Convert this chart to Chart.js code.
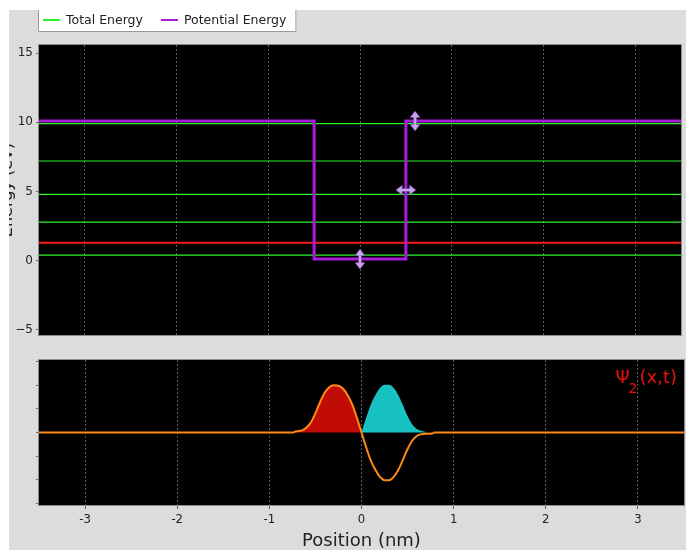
<!DOCTYPE html>
<html><head><meta charset="utf-8">
<script src="https://cdn.jsdelivr.net/npm/chart.js@4.4.1/dist/chart.umd.min.js"></script>
<style>
html,body{margin:0;padding:0;background:#fff;width:686px;height:550px;overflow:hidden;}
#panel{position:absolute;left:9px;top:10px;width:677px;height:540px;background:#dcdcdc;overflow:hidden;}
#top{position:absolute;left:0;top:0;}
#bot{position:absolute;left:0;top:330px;}
</style></head><body>
<div id="panel"><canvas id="top" width="677" height="330"></canvas><canvas id="bot" width="677" height="210"></canvas></div>
<script>
// ---------- data ----------
const xTicks = [-3, -2, -1, 0, 1, 2, 3];
const energyTicks = [-5, 0, 5, 10, 15];
const psiTicks = [-3, -2, -1, 0, 1, 2, 3];
const boundEnergies = [0.39, 1.28, 2.77, 4.78, 7.20, 9.90];
const selectedEnergy = 1.28;
const wellX = [-3.5, -0.5, -0.5, 0.5, 0.5, 3.5];
const wellV = [10.1, 10.1, 0.1, 0.1, 10.1, 10.1];
const arrowX = [0, 0.5, 0.6];
const arrowY = [0.1, 5.1, 10.1];
const arrowDir = ['v', 'h', 'v'];
const psiX  = [-3.5, -0.74, -0.72, -0.68, -0.64, -0.60, -0.55, -0.50, -0.45, -0.40, -0.35, -0.30, -0.25, -0.20, -0.15, -0.10, -0.05, 0.00, 0.05, 0.10, 0.15, 0.20, 0.25, 0.30, 0.35, 0.40, 0.45, 0.50, 0.55, 0.60, 0.64, 0.70, 0.77, 0.79, 3.5];
const psiRe = [0, 0, 0.04, 0.06, 0.10, 0.20, 0.42, 0.82, 1.28, 1.68, 1.92, 2.00, 1.98, 1.85, 1.58, 1.18, 0.62, 0, -0.62, -1.18, -1.58, -1.88, -2.02, -2.02, -1.88, -1.58, -1.15, -0.70, -0.35, -0.15, -0.08, -0.05, -0.04, 0, 0];
const redX  = [-0.74, -0.72, -0.68, -0.64, -0.60, -0.55, -0.50, -0.45, -0.40, -0.35, -0.30, -0.25, -0.20, -0.15, -0.10, -0.05, 0.00];
const redY  = [0, 0.04, 0.06, 0.10, 0.20, 0.42, 0.82, 1.28, 1.68, 1.92, 2.00, 1.98, 1.85, 1.58, 1.18, 0.62, 0];
const cyanX = [0.00, 0.05, 0.10, 0.15, 0.20, 0.25, 0.30, 0.35, 0.40, 0.45, 0.50, 0.55, 0.60, 0.66, 0.72];
const cyanY = [0, 0.62, 1.18, 1.58, 1.88, 2.02, 2.02, 1.88, 1.58, 1.15, 0.70, 0.35, 0.15, 0.06, 0];

const totalLabel = 'Total Energy';
const potentialLabel = 'Potential Energy';
const yTitle = 'Energy (eV)';
const xTitle = 'Position (nm)';

// ---------- styles ----------
const GREEN = '#2cf22c', PURPLE = '#a81ed8', SELRED = '#ff1414', ORANGE = '#ff8a12', FILLRED = '#c00c04', CYAN = '#19c2c2', ARROW = '#c9a2f2';
const FONT = "'DejaVu Sans', sans-serif";
Chart.defaults.font.family = FONT;

function makeArrow(dir) {
  const c = document.createElement('canvas'); c.width = 24; c.height = 24;
  const g = c.getContext('2d');
  g.translate(12, 12); if (dir === 'h') g.rotate(Math.PI / 2);
  g.beginPath();
  g.moveTo(0, -10); g.lineTo(5, -3.5); g.lineTo(1.5, -3.5); g.lineTo(1.5, 3.5); g.lineTo(5, 3.5);
  g.lineTo(0, 10); g.lineTo(-5, 3.5); g.lineTo(-1.5, 3.5); g.lineTo(-1.5, -3.5); g.lineTo(-5, -3.5); g.closePath();
  g.fillStyle = ARROW; g.fill();
  g.strokeStyle = 'rgba(110,60,160,0.7)'; g.lineWidth = 0.7; g.stroke();
  return c;
}
const arrowImg = { v: makeArrow('v'), h: makeArrow('h') };

const framePlugin = {
  id: 'frame',
  beforeDraw(c) { const a = c.chartArea, g = c.ctx; g.save(); g.fillStyle = '#000'; g.fillRect(a.left, a.top, a.right - a.left, a.bottom - a.top); g.restore(); },
  afterDraw(c) { const a = c.chartArea, g = c.ctx; g.save(); g.strokeStyle = '#8c8c8c'; g.lineWidth = 1; g.strokeRect(a.left - 0.5, a.top - 0.5, a.right - a.left + 1, a.bottom - a.top + 1); g.restore(); }
};

const legendPlugin = {
  id: 'boxLegend',
  afterDraw(c) {
    const g = c.ctx; g.save();
    const items = c.data.datasets.filter(d => d.inLegend).sort((p, q) => p.legendOrder - q.legendOrder);
    g.font = '12.5px ' + FONT;
    const x0 = 29, h = 22;
    let w = 5;
    items.forEach((it, i) => { w += 17 + 6 + g.measureText(it.label).width + (i < items.length - 1 ? 18 : 10); });
    g.fillStyle = '#fff'; g.fillRect(x0, 0, w, h);
    g.strokeStyle = '#999'; g.lineWidth = 1;
    g.beginPath(); g.moveTo(x0 + 0.5, 0); g.lineTo(x0 + 0.5, h - 0.5); g.lineTo(x0 + w - 0.5, h - 0.5); g.lineTo(x0 + w - 0.5, 0); g.stroke();
    let x = x0 + 5;
    items.forEach(it => {
      g.fillStyle = it.borderColor; g.fillRect(x, 9, 17, 2);
      x += 23;
      g.fillStyle = '#222'; g.textBaseline = 'middle'; g.fillText(it.label, x, 10.5);
      x += g.measureText(it.label).width + 18;
    });
    g.restore();
  }
};

const yTitlePlugin = {
  id: 'yTitle',
  afterDraw(c) {
    const g = c.ctx, a = c.chartArea; g.save();
    g.translate(3, (a.top + a.bottom) / 2); g.rotate(-Math.PI / 2);
    g.font = '16px ' + FONT; g.fillStyle = '#222'; g.textAlign = 'center'; g.textBaseline = 'alphabetic';
    g.fillText(yTitle, 0, 0); g.restore();
  }
};

const psiLabelPlugin = {
  id: 'psiLabel',
  afterDraw(c) {
    const g = c.ctx, a = c.chartArea; g.save(); g.fillStyle = '#e8120a'; g.textBaseline = 'alphabetic';
    const main = '18px ' + FONT, sub = '14px ' + FONT;
    g.font = main; const w1 = g.measureText('\u03A8').width, w3 = g.measureText('(x,t)').width;
    g.font = sub; const w2 = g.measureText('2').width;
    let x = a.right - 7 - (w1 + w2 + w3 + 1);
    g.font = main; g.fillText('\u03A8', x, a.top + 23); x += w1 - 1;
    g.font = sub; g.fillText('2', x, a.top + 33); x += w2 + 2;
    g.font = main; g.fillText('(x,t)', x, a.top + 23);
    g.restore();
  }
};

const greenData = [];
boundEnergies.forEach(e => { greenData.push({ x: -3.5, y: e }, { x: 3.5, y: e }, { x: 3.5, y: null }); });

const setTicks = arr => s => { s.ticks = arr.map(v => ({ value: v })); };
const minus = v => String(v).replace('-', '\u2212');
const fixY = s => { s.width = 30; s.paddingTop = 0; s.paddingBottom = 0; };

new Chart(document.getElementById('top'), {
  type: 'line',
  data: { datasets: [
    { type: 'scatter', label: 'handles', data: arrowX.map((x, i) => ({ x, y: arrowY[i] })), pointStyle: arrowDir.map(d => arrowImg[d]), order: 0 },
    { label: potentialLabel, inLegend: true, legendOrder: 2, data: wellX.map((x, i) => ({ x, y: wellV[i] })), borderColor: PURPLE, borderWidth: 3, pointRadius: 0, order: 1 },
    { label: 'selected', data: [{ x: -3.5, y: selectedEnergy }, { x: 3.5, y: selectedEnergy }], borderColor: SELRED, borderWidth: 2, pointRadius: 0, order: 2 },
    { label: totalLabel, inLegend: true, legendOrder: 1, data: greenData, borderColor: GREEN, borderWidth: 1.2, pointRadius: 0, spanGaps: false, order: 3 }
  ] },
  options: {
    responsive: false, animation: false, events: [],
    layout: { padding: { top: 35, right: 2, bottom: 3, left: 0 } },
    plugins: { legend: { display: false }, tooltip: { enabled: false } },
    scales: {
      x: { type: 'linear', min: -3.5, max: 3.5, afterBuildTicks: setTicks(xTicks), ticks: { display: false },
           grid: { color: '#5f5f5f', drawTicks: false }, border: { display: false, dash: [2, 2] }, afterFit: s => { s.height = 0; s.paddingLeft = 0; s.paddingRight = 0; } },
      y: { type: 'linear', min: -5.4, max: 15.6, afterBuildTicks: setTicks(energyTicks),
           ticks: { color: '#222', padding: 3, font: { size: 12 }, callback: minus },
           grid: { drawOnChartArea: false, tickLength: 3, color: '#666' }, border: { display: false }, afterFit: fixY }
    }
  },
  plugins: [framePlugin, legendPlugin, yTitlePlugin]
});

new Chart(document.getElementById('bot'), {
  type: 'line',
  data: { datasets: [
    { label: 'Re', data: psiX.map((x, i) => ({ x, y: psiRe[i] })), borderColor: ORANGE, borderWidth: 2, pointRadius: 0, cubicInterpolationMode: 'monotone', fill: false, order: 0 },
    { label: 'pos', data: redX.map((x, i) => ({ x, y: redY[i] })), backgroundColor: FILLRED, borderColor: FILLRED, borderWidth: 0, pointRadius: 0, cubicInterpolationMode: 'monotone', fill: 'origin', order: 1 },
    { label: 'mag', data: cyanX.map((x, i) => ({ x, y: cyanY[i] })), backgroundColor: CYAN, borderColor: CYAN, borderWidth: 0, pointRadius: 0, cubicInterpolationMode: 'monotone', fill: 'origin', order: 2 }
  ] },
  options: {
    responsive: false, animation: false, events: [],
    layout: { padding: { top: 20, right: 2, bottom: 0, left: 0 } },
    plugins: { legend: { display: false }, tooltip: { enabled: false } },
    scales: {
      x: { type: 'linear', min: -3.5, max: 3.5, afterBuildTicks: setTicks(xTicks),
           ticks: { color: '#222', padding: 3, font: { size: 13, family: "'DejaVu Sans Condensed', 'DejaVu Sans', sans-serif" }, callback: v => String(v) },
           title: { display: true, text: xTitle, color: '#222', font: { size: 18 }, padding: { top: 0, bottom: -2 } },
           grid: { color: '#5f5f5f', tickLength: 4 }, border: { display: false, dash: [2, 2] }, afterFit: s => { s.height = 45; s.paddingLeft = 0; s.paddingRight = 0; } },
      y: { type: 'linear', min: -3.07, max: 3.07, afterBuildTicks: setTicks(psiTicks),
           ticks: { callback: () => '', padding: 0 },
           grid: { drawOnChartArea: false, tickLength: 3, color: '#666' }, border: { display: false }, afterFit: fixY }
    }
  },
  plugins: [framePlugin, psiLabelPlugin]
});
</script>
</body></html>
